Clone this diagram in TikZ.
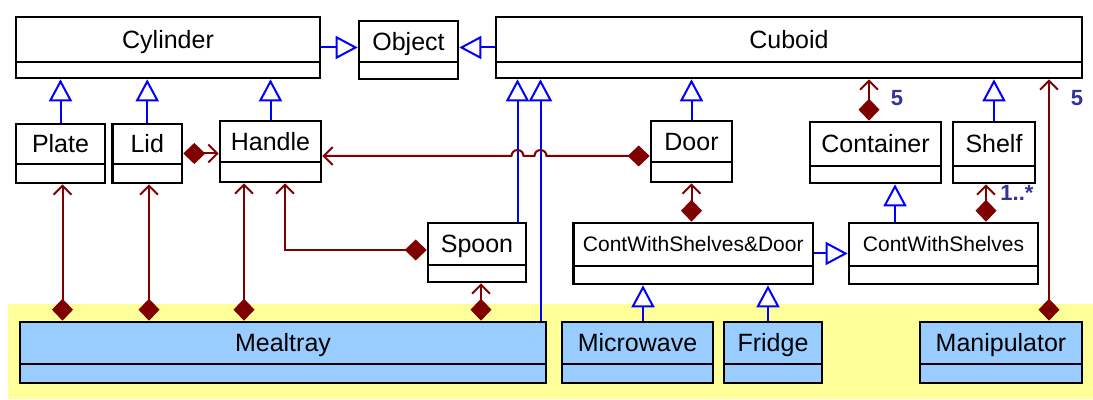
\documentclass[tikz,border=0pt]{standalone}
\usepackage{fontspec}
\setmainfont{Liberation Sans}
\usetikzlibrary{arrows.meta}

\definecolor{assoc}{RGB}{128,0,0}
\definecolor{multc}{RGB}{51,51,153}
\definecolor{band}{RGB}{255,255,153}
\definecolor{agentblue}{RGB}{153,204,255}

\begin{document}
\begin{tikzpicture}[x = 0.5pt, y = -0.5pt,
                    cls/.style n args = {4}{draw, line width = 1.3pt, fill = white,
                        inner xsep = 2pt, inner ysep = 0pt,
                        minimum width = #1, text height = #2, text depth = #3,
                        font = \fontsize{12.5}{15}\selectfont,
                        path picture = {\draw[line width = 1.3pt]
                          ([yshift=#4]path picture bounding box.south west) --
                          ([yshift=#4]path picture bounding box.south east);}},
                    smalltxt/.style = {font = \fontsize{10.5}{12.5}\selectfont},
                    agent/.style = {fill = agentblue},
                    gen/.style = {draw = blue, line width = 1pt,
                        -{Triangle[open, length = 11pt, width = 11.5pt, fill = white]}},
                    comp/.style = {draw = assoc, line width = 1pt,
                        {Diamond[length = 11pt, width = 10.5pt]}-{Straight Barb[length = 4.5pt, width = 9pt]}},
                    mult/.style = {text = multc, inner sep = 0pt,
                        font = \bfseries\fontsize{11}{13}\selectfont}]
  \useasboundingbox (0,0) rectangle (1093,400);
  \fill[band] (8,304) rectangle (1093,399);

  % top row
  \node [cls = {152pt}{15.75pt}{14.75pt}{8pt}] (cyl) at (168,47.5) {Cylinder};
  \node [cls = {49.5pt}{14.75pt}{14.25pt}{8.5pt}] (obj) at (408.5,50) {Object};
  \node [cls = {293pt}{15.75pt}{14.75pt}{8pt}] (cub) at (789,47.5) {Cuboid};

  % second row
  \node [cls = {44.5pt}{14.5pt}{15pt}{9.5pt}] (plate) at (60.5,153.5) {Plate};
  \node [cls = {34.75pt}{14.5pt}{15pt}{9.5pt}] (lid) at (147.25,153.5) {Lid};
  \node [cls = {50.5pt}{14.75pt}{15.75pt}{10pt}] (handle) at (270.5,151.5) {Handle};
  \node [cls = {40.5pt}{14.75pt}{15.75pt}{10pt}] (door) at (691.5,151.5) {Door};
  \node [cls = {65.5pt}{15.5pt}{15pt}{8.5pt}] (cont) at (875.5,152.5) {Container};
  \node [cls = {41pt}{15.5pt}{15pt}{8.5pt}] (shelf) at (994,152.5) {Shelf};

  % third row
  \node [cls = {49pt}{15pt}{14.5pt}{8.5pt}] (spoon) at (477,252.5) {Spoon};
  \node [cls = {119.75pt}{14.5pt}{16pt}{9pt}, smalltxt] (cwsd) at (693.25,253.5) {ContWithShelves\&Door};
  \node [cls = {94.5pt}{14.5pt}{16pt}{9pt}, smalltxt] (cws) at (943.5,253.5) {ContWithShelves};

  % bottom row
  \node [cls = {263pt}{15pt}{15.5pt}{9.5pt}, agent] (meal) at (283,352.5) {Mealtray};
  \node [cls = {75.5pt}{15pt}{15.5pt}{9.5pt}, agent] (micro) at (637.5,352.5) {Microwave};
  \node [cls = {49pt}{15pt}{15.5pt}{9.5pt}, agent] (fridge) at (773,352.5) {Fridge};
  \node [cls = {81pt}{15pt}{15.5pt}{9.5pt}, agent] (manip) at (1001,352.5) {Manipulator};

  % generalisations
  \draw[gen] (cyl.east) -- (cyl.east -| obj.west);
  \draw[gen] (cub.west) -- (cub.west -| obj.east);
  \draw[gen] (plate.north) -- (plate.north |- cyl.south);
  \draw[gen] (lid.north) -- (lid.north |- cyl.south);
  \draw[gen] (handle.north) -- (handle.north |- cyl.south);
  \draw[gen] (517.5,0 |- spoon.north) -- (517.5,0 |- cub.south);
  \draw[gen] (540.5,0 |- meal.north) -- (540.5,0 |- cub.south);
  \draw[gen] (door.north) -- (door.north |- cub.south);
  \draw[gen] (shelf.north) -- (shelf.north |- cub.south);
  \draw[gen] (895,0 |- cws.north) -- (895,0 |- cont.south);
  \draw[gen] (cwsd.east) -- (cwsd.east -| cws.west);
  \draw[gen] (643,0 |- micro.north) -- (643,0 |- cwsd.south);
  \draw[gen] (768,0 |- fridge.north) -- (768,0 |- cwsd.south);

  % compositions
  \draw[comp] (lid.east) -- (lid.east -| handle.west);
  \draw[comp] (door.west |- 0,156) -- (546.5,156) arc[start angle = 0, end angle = 180, radius = 3pt]
              -- (523.5,156) arc[start angle = 0, end angle = 180, radius = 3pt]
              -- (handle.east |- 0,156);
  \draw[comp] (spoon.west |- 0,250) -| (285,0 |- handle.south);
  \draw[comp] (62.5,0 |- meal.north) -- (62.5,0 |- plate.south);
  \draw[comp] (149,0 |- meal.north) -- (149,0 |- lid.south);
  \draw[comp] (244,0 |- meal.north) -- (244,0 |- handle.south);
  \draw[comp] (481,0 |- meal.north) -- (481,0 |- spoon.south);
  \draw[comp] (cwsd.north -| door.south) -- (door.south);
  \draw[comp] (869,0 |- cont.north) -- (869,0 |- cub.south);
  \draw[comp] (986,0 |- cws.north) -- (986,0 |- shelf.south);
  \draw[comp] (1049,0 |- manip.north) -- (1049,0 |- cub.south);

  % multiplicities
  \node [mult] (mcont) at (897,98) {5};
  \node [mult] (mmanip) at (1077,98) {5};
  \node [mult] (mshelf) at (1017,193) {1..*};
\end{tikzpicture}
\end{document}
